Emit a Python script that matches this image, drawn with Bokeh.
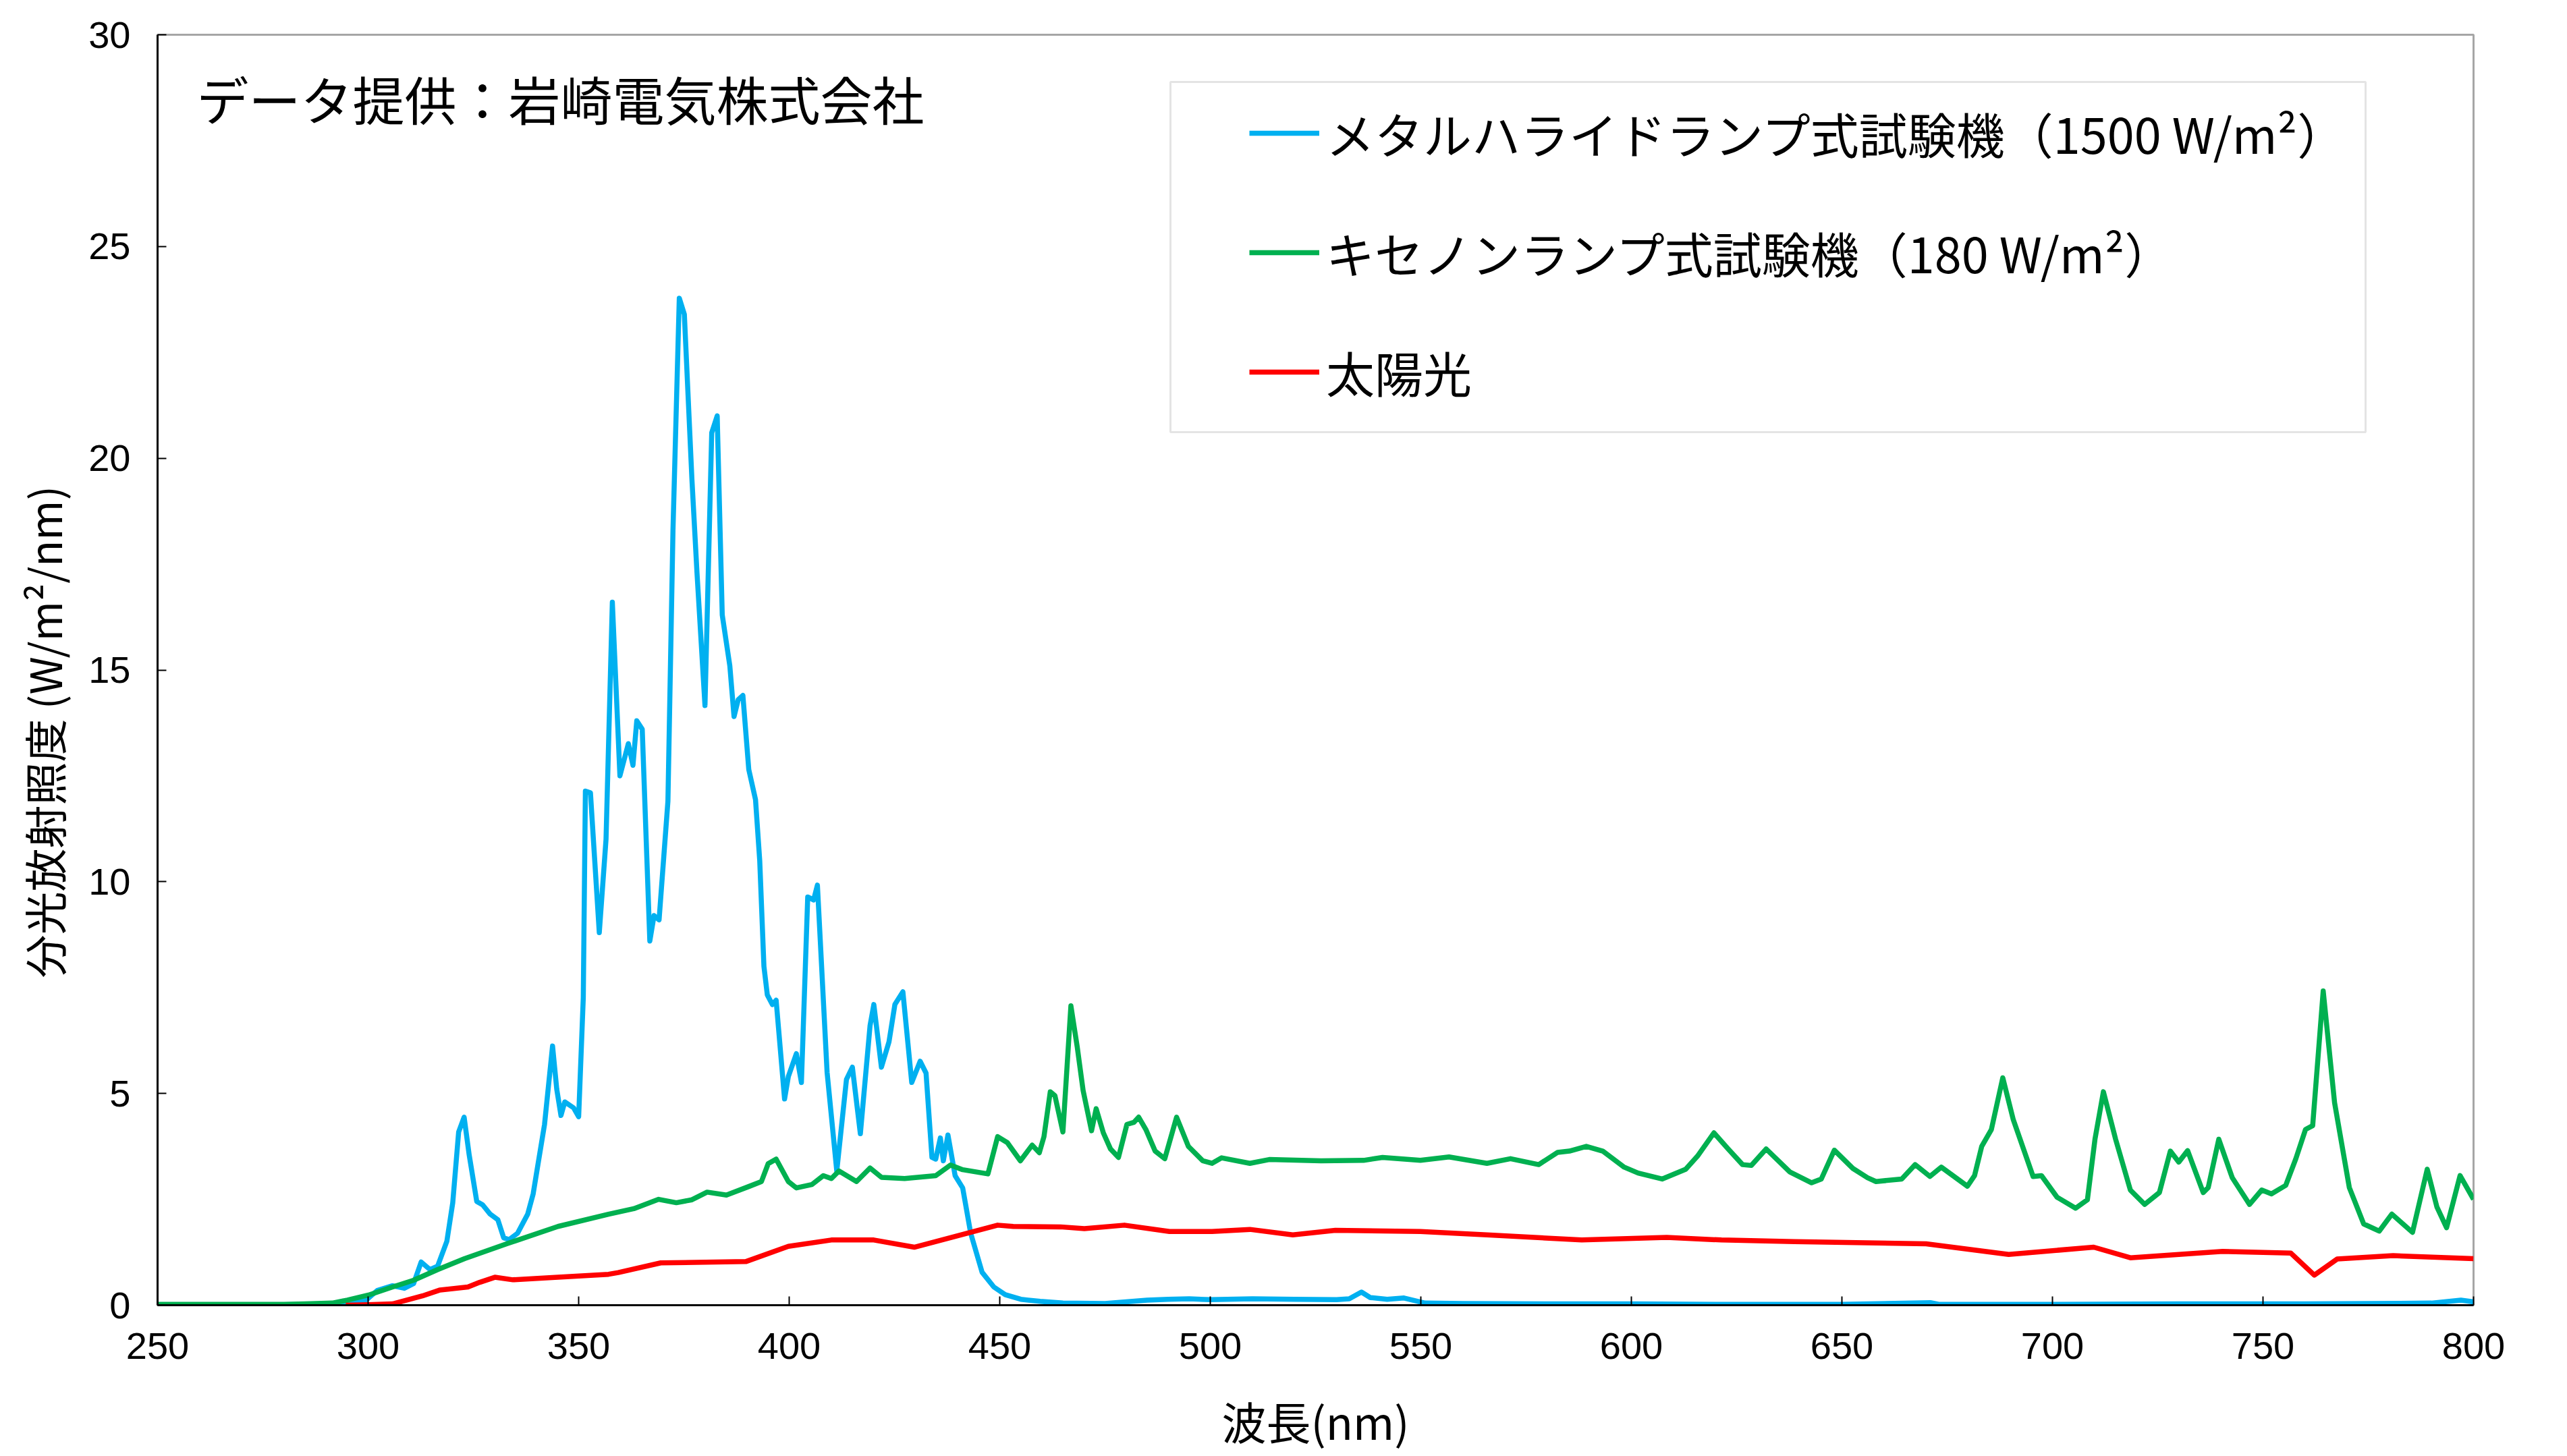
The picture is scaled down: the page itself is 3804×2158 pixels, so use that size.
import numpy as np
from bokeh.plotting import figure
from bokeh.models import Range1d, FixedTicker, Legend, LegendItem, Label, BoxAnnotation, Title
from bokeh.embed import file_html
from bokeh.resources import INLINE

# ---- ticks ----
x_ticks = [250, 300, 350, 400, 450, 500, 550, 600, 650, 700, 750, 800]
y_ticks = [0, 5, 10, 15, 20, 25, 30]

# ---- series names ----
metal_label = "メタルハライドランプ式試験機（1500 W/m²）"
xenon_label = "キセノンランプ式試験機（180 W/m²）"
sun_label = "太陽光"

# ---- metal halide lamp (blue) ----
metal_nm = [250, 260, 270, 280, 290, 295, 299.4, 302.2, 305.8, 308.6, 310.8, 312.6, 314.7, 316.5,
            318.7, 320.1, 321.5, 322.8, 324.0, 325.8, 327.2, 329.0, 330.8, 332.2, 333.5, 335.5,
            337.9, 339.2, 340.1, 341.9, 343.8, 344.8, 345.8, 346.7, 348.8, 350.0, 351.1, 351.6,
            352.8, 354.9, 356.5, 358.0, 359.8, 361.8, 362.9, 363.8, 365.1, 366.9, 367.9, 369.1,
            371.2, 372.4, 373.9, 375.1, 376.9, 378.1, 380.0, 381.6, 382.9, 384.1, 385.9, 386.9,
            387.9, 389.0, 390.4, 392.0, 393.0, 394.0, 394.8, 396.0, 396.9, 398.9, 399.8, 401.7,
            402.9, 404.4, 405.8, 406.7, 409.0, 411.3, 413.6, 415.0, 416.9, 419.2, 420.1, 421.9,
            423.7, 425.1, 427.0, 429.1, 431.1, 432.5, 433.9, 434.8, 435.9, 436.6, 437.7, 439.4,
            441.2, 443.1, 445.8, 448.6, 451.3, 455.0, 459.6, 465, 475, 485, 490, 495, 500, 510,
            520, 530, 533, 535.9, 538, 542, 546, 551, 560, 580, 600, 620, 650, 671, 673, 700,
            730, 760, 790, 797, 800]
metal_val = [0.01, 0.01, 0.01, 0.01, 0.02, 0.05, 0.11, 0.35, 0.46, 0.40, 0.51, 1.02, 0.84, 0.92,
             1.51, 2.42, 4.09, 4.44, 3.55, 2.45, 2.37, 2.15, 2.02, 1.59, 1.55, 1.70,
             2.15, 2.63, 3.18, 4.27, 6.12, 5.10, 4.48, 4.80, 4.66, 4.45, 7.26, 12.14,
             12.10, 8.80, 11.0, 16.6, 12.5, 13.26, 12.75, 13.8, 13.6, 8.6, 9.2, 9.1,
             11.9, 18.3, 23.78, 23.4, 19.5, 17.3, 14.16, 20.6, 21.0, 16.3, 15.1, 13.9,
             14.3, 14.4, 12.65, 11.94, 10.5, 8.0, 7.33, 7.10, 7.20, 4.87, 5.40, 5.94,
             5.26, 9.64, 9.57, 9.92, 5.50, 3.17, 5.33, 5.62, 4.05, 6.60, 7.10, 5.62,
             6.22, 7.10, 7.40, 5.26, 5.76, 5.48, 3.49, 3.45, 3.95, 3.41, 4.02, 3.06,
             2.77, 1.70, 0.78, 0.43, 0.25, 0.14, 0.09, 0.05, 0.04, 0.12, 0.14, 0.15, 0.13, 0.15,
             0.14, 0.13, 0.15, 0.31, 0.18, 0.14, 0.17, 0.05, 0.04, 0.03, 0.03, 0.02, 0.02, 0.06, 0.02, 0.02,
             0.03, 0.03, 0.05, 0.12, 0.08]

# ---- xenon lamp (green) ----
xenon_nm = [250, 260, 270, 280, 285, 291.5, 295.1, 300.1, 305.8, 310.8, 316.5, 322.9, 332.9, 345.1,
            357.1, 363.1, 369.0, 373.2, 376.9, 380.5, 385.1, 390.6, 393.4, 395.0, 396.9, 399.8,
            401.7, 405.4, 408.1, 410.0, 411.8, 416.0, 419.2, 421.9, 427.4, 434.8, 438.3, 441.2,
            447.2, 449.5, 451.8, 454.9, 457.7, 459.4, 460.5, 462.0, 463.1, 465.0, 466.9, 468.4,
            469.8, 471.8, 472.9, 474.6, 476.3, 478.2, 480.2, 481.9, 483.0, 484.7, 486.9, 489.2,
            492.0, 494.8, 498.2, 500.4, 502.7, 509.4, 514.0, 526.3, 536.4, 540.9, 549.9, 556.7,
            565.7, 571.3, 578.0, 582.5, 585.3, 589.3, 593.2, 598.3, 601.6, 607.3, 612.9, 615.7,
            619.6, 623.0, 626.4, 628.5, 632.0, 637.6, 642.8, 645.1, 648.2, 652.6, 656.1, 658.1,
            664.2, 667.4, 670.9, 673.6, 679.8, 681.5, 683.2, 685.5, 688.2, 690.7, 695.4, 697.4,
            701.1, 705.5, 708.3, 710.1, 712.1, 715.0, 718.5, 721.9, 725.4, 728.0, 730.0, 732.1,
            735.8, 737.0, 739.5, 742.7, 746.8, 749.7, 752.0, 755.4, 757.8, 760.1, 761.8, 764.3,
            767.0, 770.5, 773.9, 777.6, 780.6, 785.5, 789.0, 791.3, 793.6, 796.8, 800.0]
xenon_val = [0.02, 0.02, 0.02, 0.02, 0.03, 0.05, 0.12, 0.24, 0.43, 0.59, 0.84, 1.10, 1.45, 1.86,
             2.15, 2.28, 2.50, 2.42, 2.49, 2.67, 2.60, 2.81, 2.92, 3.34, 3.45, 2.92,
             2.77, 2.85, 3.06, 2.99, 3.17, 2.92, 3.24, 3.02, 2.99, 3.06, 3.31, 3.20,
             3.10, 3.98, 3.84, 3.41, 3.78, 3.60, 3.98, 5.04, 4.95, 4.09, 7.07, 6.10,
             5.07, 4.12, 4.64, 4.07, 3.69, 3.49, 4.27, 4.32, 4.44, 4.15, 3.64, 3.46,
             4.44, 3.75, 3.41, 3.35, 3.48, 3.35, 3.44, 3.41, 3.42, 3.49, 3.42, 3.50,
             3.35, 3.46, 3.32, 3.61, 3.64, 3.75, 3.64, 3.26, 3.12, 2.98, 3.21, 3.52,
             4.07, 3.69, 3.32, 3.30, 3.69, 3.15, 2.89, 2.98, 3.66, 3.23, 3.01, 2.92,
             2.98, 3.32, 3.04, 3.26, 2.81, 3.06, 3.75, 4.15, 5.37, 4.38, 3.04, 3.06,
             2.55, 2.29, 2.49, 3.92, 5.04, 3.92, 2.72, 2.38, 2.66, 3.64, 3.38, 3.65,
             2.66, 2.78, 3.92, 3.01, 2.38, 2.72, 2.63, 2.83, 3.46, 4.15, 4.24, 7.42,
             4.78, 2.78, 1.92, 1.75, 2.15, 1.72, 3.21, 2.32, 1.83, 3.06, 2.50]

# ---- sunlight (red) ----
sun_nm = [294.7, 300, 305.8, 312.9, 317.1, 323.7, 326.5, 330.1, 334.4, 345.1, 357.1, 359.4, 369.5,
          389.7, 399.8, 410.0, 420.1, 429.7, 449.5, 453.2, 464.4, 470.1, 479.6, 490.3, 500.4,
          509.4, 519.6, 529.7, 549.9, 565.7, 588.2, 608.4, 621.4, 638.7, 670.0, 689.6, 709.8,
          718.5, 740.4, 756.6, 762.2, 767.6, 780.9, 800.0]
sun_val = [0.0, 0.01, 0.03, 0.22, 0.36, 0.43, 0.54, 0.66, 0.60, 0.66, 0.73, 0.77, 1.00,
           1.03, 1.39, 1.54, 1.54, 1.37, 1.89, 1.86, 1.85, 1.81, 1.89, 1.74, 1.74,
           1.79, 1.66, 1.77, 1.74, 1.66, 1.54, 1.60, 1.54, 1.50, 1.45, 1.20, 1.37,
           1.12, 1.27, 1.23, 0.71, 1.09, 1.17, 1.10]

W, H = 3804, 2158
p = figure(width=W, height=H, output_backend="svg", toolbar_location=None,
           x_range=Range1d(250, 800), y_range=Range1d(0, 30),
           min_border_left=231, min_border_right=139, min_border_top=51, min_border_bottom=224)
p.background_fill_color = "white"
p.border_fill_color = "white"
p.xgrid.visible = False
p.ygrid.visible = False
p.outline_line_color = "#A6A6A6"
p.outline_line_width = 3

tick_font = "Liberation Sans"
for ax in (p.xaxis[0], p.yaxis[0]):
    ax.axis_line_color = "black"
    ax.axis_line_width = 3
    ax.major_tick_in = 13
    ax.major_tick_out = 0
    ax.major_tick_line_color = "black"
    ax.major_tick_line_width = 2
    ax.minor_tick_in = 0
    ax.minor_tick_out = 0
    ax.major_label_text_font = tick_font
    ax.major_label_text_font_size = "56px"
    ax.major_label_text_color = "black"
p.xaxis.ticker = FixedTicker(ticks=x_ticks)
p.yaxis.ticker = FixedTicker(ticks=y_ticks)
p.xaxis.major_label_standoff = 41
p.yaxis.major_label_standoff = 40

cjk = "Noto Sans CJK JP"

# x axis label
p.xaxis.axis_label = "波長(nm)"
p.xaxis.axis_label_standoff = 40
p.xaxis.axis_label_text_font = cjk
p.xaxis.axis_label_text_font_size = "66px"
p.xaxis.axis_label_text_font_style = "normal"
p.xaxis.axis_label_text_color = "black"

r_m = p.line(metal_nm, metal_val, line_color="#00B0F0", line_width=7.5, line_join="round")
r_x = p.line(xenon_nm, xenon_val, line_color="#00B050", line_width=7.5, line_join="round")
r_s = p.line(sun_nm, sun_val, line_color="#FF0000", line_width=7.5, line_join="round")

legend_box = BoxAnnotation(left=1501, right=3272, top=1813, bottom=1294,
                           left_units="screen", right_units="screen",
                           top_units="screen", bottom_units="screen",
                           fill_alpha=0, line_color="#A6A6A6", line_width=3)
p.add_layout(legend_box)

legend = Legend(items=[LegendItem(label=metal_label, renderers=[r_m]),
                       LegendItem(label=xenon_label, renderers=[r_x]),
                       LegendItem(label=sun_label, renderers=[r_s])],
                location=(1618, 1331), padding=0, spacing=72, margin=0,
                label_height=100, glyph_height=100, glyph_width=104, label_standoff=10,
                label_text_font=cjk, label_text_font_size="72px", label_text_color="black",
                border_line_alpha=0, background_fill_alpha=0)
p.add_layout(legend)

p.add_layout(Label(x=58, y=1789, x_units="screen", y_units="screen",
                   text="データ提供：岩崎電気株式会社", text_font=cjk, text_font_size="77px",
                   text_align="left", text_baseline="middle", text_color="black"))

# y axis label (placed in the left side panel)
y_title = Title(text="分光放射照度 (W/m²/nm)", align="left", offset=485, standoff=34,
                vertical_align="top", text_font=cjk, text_font_size="64px",
                text_font_style="normal", text_color="black")
p.add_layout(y_title, "left")

open("out.html", "w").write(file_html(p, INLINE))
